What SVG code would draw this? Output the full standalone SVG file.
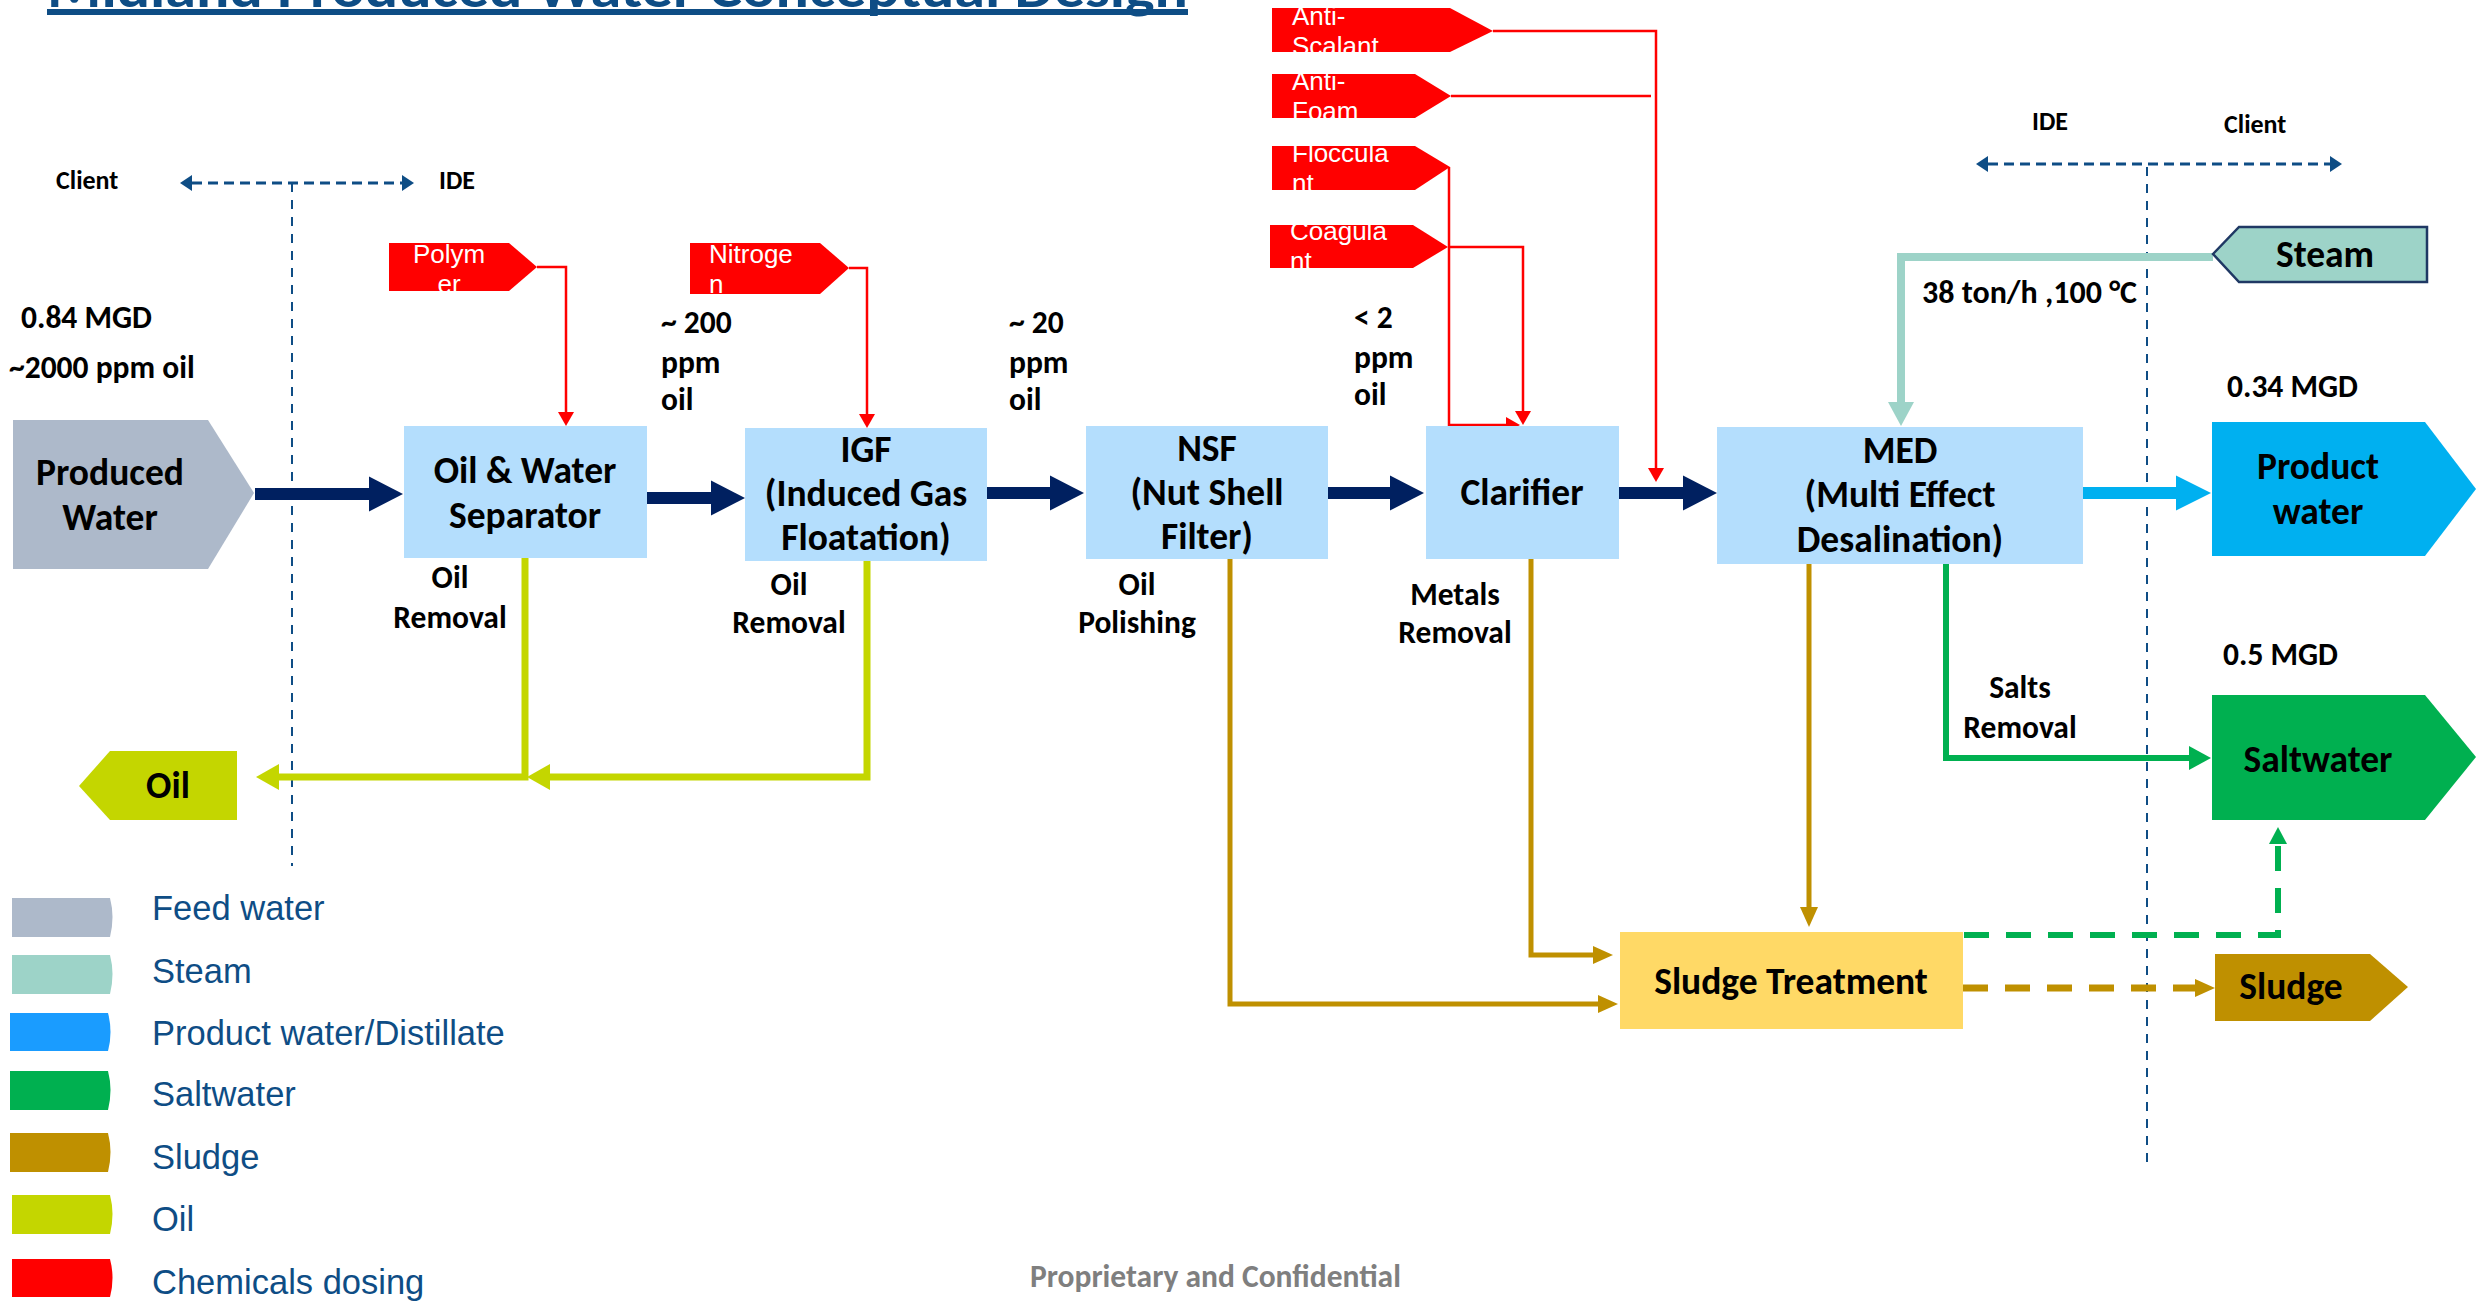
<svg xmlns="http://www.w3.org/2000/svg" width="2476" height="1302" viewBox="0 0 2476 1302">
<style>
.b{font-family:Carlito,Lato,"Liberation Sans",sans-serif;font-weight:700;fill:#000}
.n{font-size:37.5px;text-anchor:middle}
.a{font-size:31.5px}
.c{text-anchor:middle}
.k{font-size:26px}
.chem{font-family:"Liberation Sans",Arial,sans-serif;font-size:26px;fill:#fff}
.leg{font-family:"Liberation Sans",Arial,sans-serif;font-size:34.5px;fill:#0E4D85}
.box{fill:#B4DEFD}
.red{fill:#FF0000}
.ln{fill:none}
.nav{stroke:#002060;stroke-width:12;marker-end:url(#mNav)}
.rd{stroke:#FF0000;stroke-width:2.5}
.oil{stroke:#C4D600;stroke-width:7;marker-end:url(#mOil)}
.sl{stroke:#BF9000;stroke-width:5;marker-end:url(#mSl)}
.bnd{stroke:#0E4D85}
</style>
<defs>
<marker id="mNav" markerUnits="userSpaceOnUse" markerWidth="34" markerHeight="35" refX="0" refY="17.5" orient="auto" overflow="visible"><path d="M0,0 L34,17.5 L0,35 Z" fill="#002060"/></marker>
<marker id="mProd" markerUnits="userSpaceOnUse" markerWidth="35" markerHeight="35" refX="0" refY="17.5" orient="auto" overflow="visible"><path d="M0,0 L35,17.5 L0,35 Z" fill="#00B0F0"/></marker>
<marker id="mSteam" markerUnits="userSpaceOnUse" markerWidth="24" markerHeight="26" refX="0" refY="13" orient="auto" overflow="visible"><path d="M0,0 L24,13 L0,26 Z" fill="#9DD3C8"/></marker>
<marker id="mSalt" markerUnits="userSpaceOnUse" markerWidth="22" markerHeight="24" refX="0" refY="12" orient="auto" overflow="visible"><path d="M0,0 L22,12 L0,24 Z" fill="#00B050"/></marker>
<marker id="mOil" markerUnits="userSpaceOnUse" markerWidth="23" markerHeight="26" refX="0" refY="13" orient="auto" overflow="visible"><path d="M0,0 L23,13 L0,26 Z" fill="#C4D600"/></marker>
<marker id="mSl" markerUnits="userSpaceOnUse" markerWidth="20" markerHeight="18" refX="0" refY="9" orient="auto" overflow="visible"><path d="M0,0 L20,9 L0,18 Z" fill="#BF9000"/></marker>
<marker id="mRed" markerUnits="userSpaceOnUse" markerWidth="14" markerHeight="16" refX="0" refY="8" orient="auto" overflow="visible"><path d="M0,0 L14,8 L0,16 Z" fill="#FF0000"/></marker>
<marker id="mGd" markerUnits="userSpaceOnUse" markerWidth="17" markerHeight="18" refX="0" refY="9" orient="auto" overflow="visible"><path d="M0,0 L17,9 L0,18 Z" fill="#00B050"/></marker>
</defs>
<rect width="2476" height="1302" fill="#fff"/>

<g id="title">
<text x="47" y="7" class="b" font-size="55" style="fill:#0E4D85" textLength="1141" lengthAdjust="spacingAndGlyphs">Midland Produced Water  Conceptual Design</text>
<rect x="47" y="9" width="1141" height="6" fill="#0E4D85"/>
</g>

<g id="boundaries">
<path class="ln bnd" d="M192,183 H402" stroke-width="3" stroke-dasharray="10 6"/>
<path d="M180,183 L192,175 L192,191 Z M414,183 L402,175 L402,191 Z" fill="#0E4D85"/>
<path class="ln bnd" d="M292,183 V866" stroke-width="2" stroke-dasharray="9 8"/>
<text x="56" y="189" class="b k">Client</text>
<text x="439" y="189" class="b k">IDE</text>
<path class="ln bnd" d="M1988,164 H2330" stroke-width="3" stroke-dasharray="10 6"/>
<path d="M1976,164 L1988,156 L1988,172 Z M2342,164 L2330,156 L2330,172 Z" fill="#0E4D85"/>
<path class="ln bnd" d="M2147,167 V1162" stroke-width="2" stroke-dasharray="9 8"/>
<text x="2032" y="130" class="b k">IDE</text>
<text x="2224" y="133" class="b k">Client</text>
</g>

<g id="connectors">
<path class="ln nav" d="M255,494 H369"/>
<path class="ln nav" d="M647,498 H711"/>
<path class="ln nav" d="M987,493 H1050"/>
<path class="ln nav" d="M1328,493 H1390"/>
<path class="ln nav" d="M1619,493 H1683"/>
<path class="ln" d="M2083,493 H2176" stroke="#00B0F0" stroke-width="12" marker-end="url(#mProd)"/>
<path class="ln" d="M2213,257 H1901 V402" stroke="#9DD3C8" stroke-width="8" marker-end="url(#mSteam)"/>
<path class="ln" d="M1946,564 V758 H2189" stroke="#00B050" stroke-width="6" marker-end="url(#mSalt)"/>
<path class="ln oil" d="M867,561 V777 H550"/>
<path class="ln oil" d="M525,558 V777 H279"/>
<path class="ln sl" d="M1230,559 V1004 H1598"/>
<path class="ln sl" d="M1531,559 V955 H1593"/>
<path class="ln sl" d="M1809,564 V907" stroke-width="4"/>
<path class="ln" d="M1963,988 H2195" stroke="#BF9000" stroke-width="7" stroke-dasharray="25 17" marker-end="url(#mSl)"/>
<path class="ln" d="M1964,935 H2278 V844" stroke="#00B050" stroke-width="6" stroke-dasharray="25 17" marker-end="url(#mGd)"/>
<path class="ln rd" d="M537,267 H566 V412" marker-end="url(#mRed)"/>
<path class="ln rd" d="M849,268 H867 V414" marker-end="url(#mRed)"/>
<path class="ln rd" d="M1493,31 H1656 V468" marker-end="url(#mRed)"/>
<path class="ln rd" d="M1451,96 H1651"/>
<path class="ln rd" d="M1449,167 V425 H1506" marker-end="url(#mRed)"/>
<path class="ln rd" d="M1448,247 H1523 V411" marker-end="url(#mRed)"/>
</g>

<g id="produced-water">
<path d="M13,420 H208 L254,493 L208,569 H13 Z" fill="#ADB9CA"/>
<text x="110" y="485" class="b n">Produced</text>
<text x="110" y="530" class="b n">Water</text>
</g>
<g id="oil-water-separator">
<rect class="box" x="404" y="426" width="243" height="132"/>
<text x="525" y="483" class="b n">Oil &amp; Water</text>
<text x="525" y="528" class="b n">Separator</text>
</g>
<g id="igf">
<rect class="box" x="745" y="428" width="242" height="133"/>
<text x="866" y="462" class="b n">IGF</text>
<text x="866" y="506" class="b n">(Induced Gas</text>
<text x="866" y="550" class="b n">Floatation)</text>
</g>
<g id="nsf">
<rect class="box" x="1086" y="426" width="242" height="133"/>
<text x="1207" y="461" class="b n">NSF</text>
<text x="1207" y="505" class="b n">(Nut Shell</text>
<text x="1207" y="549" class="b n">Filter)</text>
</g>
<g id="clarifier">
<rect class="box" x="1426" y="426" width="193" height="133"/>
<text x="1522" y="505" class="b n">Clarifier</text>
</g>
<g id="med">
<rect class="box" x="1717" y="427" width="366" height="137"/>
<text x="1900" y="463" class="b n">MED</text>
<text x="1900" y="507" class="b n">(Multi Effect</text>
<text x="1900" y="552" class="b n">Desalination)</text>
</g>
<g id="product-water">
<path d="M2212,422 H2425 L2476,489 L2425,556 H2212 Z" fill="#00B0F0"/>
<text x="2318" y="479" class="b n">Product</text>
<text x="2318" y="524" class="b n">water</text>
</g>
<g id="saltwater">
<path d="M2212,695 H2425 L2476,757 L2425,820 H2212 Z" fill="#00B050"/>
<text x="2318" y="772" class="b n">Saltwater</text>
</g>
<g id="steam">
<path d="M2213,254 L2239,227 H2427 V282 H2239 Z" fill="#9DD3C8" stroke="#1F3864" stroke-width="2.5"/>
<text x="2325" y="267" class="b n">Steam</text>
</g>
<g id="oil">
<path d="M79,786 L110,751 H237 V820 H110 Z" fill="#C4D600"/>
<text x="168" y="798" class="b n">Oil</text>
</g>
<g id="sludge-treatment">
<rect x="1620" y="932" width="343" height="97" fill="#FFD966"/>
<text x="1791" y="994" class="b n">Sludge Treatment</text>
</g>
<g id="sludge">
<path d="M2215,954 H2370 L2408,987 L2370,1021 H2215 Z" fill="#BF9000"/>
<text x="2291" y="999" class="b n">Sludge</text>
</g>

<g id="chem-polymer">
<path class="red" d="M389,243 H509 L537,267 L509,291 H389 Z"/>
<text x="449" y="263" class="chem c">Polym</text>
<text x="449" y="293" class="chem c">er</text>
</g>
<g id="chem-nitrogen">
<path class="red" d="M690,243 H820 L849,268 L820,294 H690 Z"/>
<text x="709" y="263" class="chem">Nitroge</text>
<text x="709" y="293" class="chem">n</text>
</g>
<g id="chem-antiscalant">
<path class="red" d="M1272,8 H1450 L1493,31 L1450,52 H1272 Z"/>
<text x="1292" y="25" class="chem">Anti-</text>
<text x="1292" y="55" class="chem">Scalant</text>
</g>
<g id="chem-antifoam">
<path class="red" d="M1272,74 H1415 L1451,96 L1415,118 H1272 Z"/>
<text x="1292" y="90" class="chem">Anti-</text>
<text x="1292" y="120" class="chem">Foam</text>
</g>
<g id="chem-flocculant">
<path class="red" d="M1272,146 H1415 L1450,167 L1415,190 H1272 Z"/>
<text x="1292" y="162" class="chem">Floccula</text>
<text x="1292" y="192" class="chem">nt</text>
</g>
<g id="chem-coagulant">
<path class="red" d="M1270,225 H1413 L1448,247 L1413,268 H1270 Z"/>
<text x="1290" y="240" class="chem">Coagula</text>
<text x="1290" y="270" class="chem">nt</text>
</g>

<g id="annotations">
<text x="21" y="328" class="b a">0.84 MGD</text>
<text x="9" y="378" class="b a">~2000 ppm oil</text>
<text x="661" y="333" class="b a">~ 200</text>
<text x="661" y="373" class="b a">ppm</text>
<text x="661" y="410" class="b a">oil</text>
<text x="1009" y="333" class="b a">~ 20</text>
<text x="1009" y="373" class="b a">ppm</text>
<text x="1009" y="410" class="b a">oil</text>
<text x="1354" y="328" class="b a">&lt; 2</text>
<text x="1354" y="368" class="b a">ppm</text>
<text x="1354" y="405" class="b a">oil</text>
<text x="450" y="588" class="b a c">Oil</text>
<text x="450" y="628" class="b a c">Removal</text>
<text x="789" y="595" class="b a c">Oil</text>
<text x="789" y="633" class="b a c">Removal</text>
<text x="1137" y="595" class="b a c">Oil</text>
<text x="1137" y="633" class="b a c">Polishing</text>
<text x="1455" y="605" class="b a c">Metals</text>
<text x="1455" y="643" class="b a c">Removal</text>
<text x="2020" y="698" class="b a c">Salts</text>
<text x="2020" y="738" class="b a c">Removal</text>
<text x="2227" y="397" class="b a">0.34 MGD</text>
<text x="2223" y="665" class="b a">0.5 MGD</text>
<text x="1922" y="303" class="b" font-size="32">38 ton/h ,100 °C</text>
<text x="1030" y="1287" class="b a" style="fill:#7F7F7F">Proprietary and Confidential</text>
</g>

<g id="legend">
<path d="M12,898 H110 Q115,917 110,937 H12 Z" fill="#ADB9CA"/>
<text x="152" y="920" class="leg">Feed water</text>
<path d="M12,955 H110 Q115,974 110,994 H12 Z" fill="#9DD3C8"/>
<text x="152" y="983" class="leg">Steam</text>
<path d="M10,1013 H108 Q113,1032 108,1051 H10 Z" fill="#1A9CFF"/>
<text x="152" y="1045" class="leg">Product water/Distillate</text>
<path d="M10,1071 H108 Q113,1090 108,1110 H10 Z" fill="#00B050"/>
<text x="152" y="1106" class="leg">Saltwater</text>
<path d="M10,1133 H108 Q113,1152 108,1172 H10 Z" fill="#BF9000"/>
<text x="152" y="1169" class="leg">Sludge</text>
<path d="M12,1195 H110 Q115,1214 110,1234 H12 Z" fill="#C4D600"/>
<text x="152" y="1231" class="leg">Oil</text>
<path d="M12,1259 H110 Q115,1278 110,1297 H12 Z" fill="#FF0000"/>
<text x="152" y="1294" class="leg">Chemicals dosing</text>
</g>
</svg>
